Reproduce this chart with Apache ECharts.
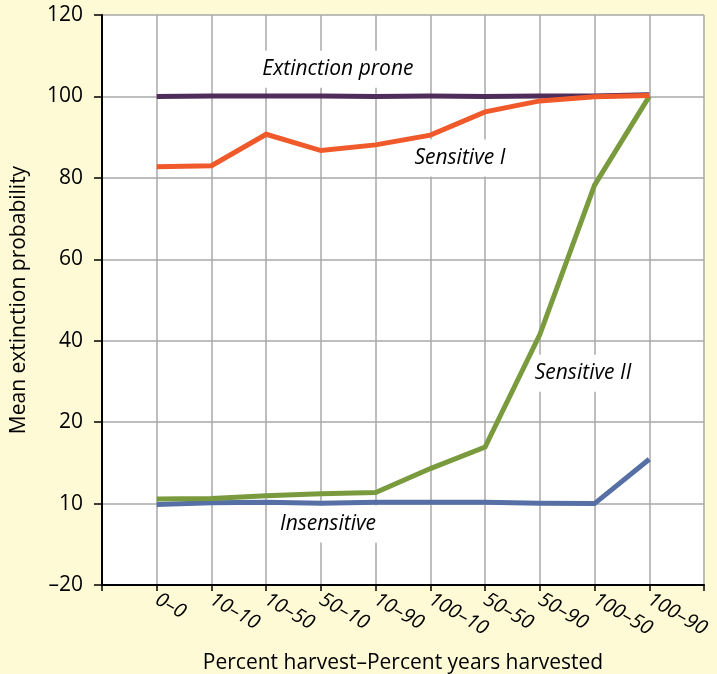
<!DOCTYPE html>
<html>
<head>
<meta charset="utf-8">
<script src="https://cdn.jsdelivr.net/npm/echarts@6/dist/echarts.min.js"></script>
<style>
html,body{margin:0;padding:0;background:#fffad6;}
#chart{width:717px;height:674px;}
</style>
</head>
<body>
<div id="chart"></div>
<script>
// Categories (Percent harvest–Percent years harvested)
const categories = ["0–0","10–10","10–50","50–10","10–90","100–10","50–50","50–90","100–50","100–90"];
// Y tick labels as printed on the original axis (axis positions -20..120 step 20)
const yTickValues = [-20, 0, 20, 40, 60, 80, 100, 120];
const yTickLabels = ["–20", "10", "20", "40", "60", "80", "100", "120"];
// Series values (in axis position units)
const extinctionProne = [100, 100.1, 100.1, 100.1, 100, 100.1, 100, 100.1, 100.1, 100.4];
const sensitiveI      = [82.7, 83.0, 90.7, 86.7, 88.1, 90.5, 96.2, 98.9, 99.9, 100.2];
const sensitiveII     = [1.1, 1.25, 1.9, 2.4, 2.7, 8.6, 13.9, 41.5, 78.2, 100];
const insensitive     = [-0.2, 0.2, 0.35, 0.1, 0.3, 0.3, 0.3, 0.1, 0.0, 10.9];
// Annotation labels and anchors (data units)
const annotations = [
  {text: "Extinction prone", x: 3.31, y: 106.7},
  {text: "Sensitive I", x: 5.54, y: 84.9},
  {text: "Sensitive II", x: 7.79, y: 32},
  {text: "Insensitive", x: 3.13, y: -5}
];

const FONT = "'Open Sans', 'Noto Sans', sans-serif";
const chart = echarts.init(document.getElementById('chart'));
function toXY(arr){ return arr.map((v,i)=>[i,v]); }
const lineStyle = (c)=>({type:'line', symbol:'none', lineStyle:{width:5, color:c, join:'miter'}, itemStyle:{color:c}, z:5});

chart.setOption({
  backgroundColor: '#fffad6',
  animation: false,
  grid: {left: 102, right: 13, top: 15, bottom: 89, show: true, backgroundColor: '#ffffff', borderWidth: 0,
         containLabel: false, outerBoundsMode: 'none'},
  xAxis: {
    type: 'value', min: -1, max: 10, interval: 1,
    axisLine: {show: true, onZero: false, lineStyle: {color: '#000', width: 2}},
    axisTick: {show: true, length: 6, lineStyle: {color: '#000', width: 1.5}},
    splitLine: {show: true, lineStyle: {color: '#a8a8a8', width: 1.5}},
    axisLabel: {
      rotate: -30, margin: 13, color: '#000', fontFamily: FONT, fontSize: 20, fontStyle: 'italic',
      showMinLabel: true, showMaxLabel: true,
      formatter: v => (v >= 0 && v < categories.length) ? categories[v] : ''
    },
    name: 'Percent harvest–Percent years harvested', nameLocation: 'middle', nameGap: 68,
    nameTextStyle: {color: '#000', fontFamily: FONT, fontSize: 21}
  },
  yAxis: {
    type: 'value', min: -20, max: 120, interval: 20,
    axisLine: {show: true, onZero: false, lineStyle: {color: '#000', width: 2}},
    axisTick: {show: true, length: 8, lineStyle: {color: '#000', width: 1.5}},
    splitLine: {show: true, lineStyle: {color: '#a8a8a8', width: 1.5}},
    axisLabel: {
      color: '#000', fontFamily: FONT, fontSize: 21, margin: 19,
      formatter: v => { const i = yTickValues.indexOf(v); return i >= 0 ? yTickLabels[i] : ''; }
    },
    name: 'Mean extinction probability', nameLocation: 'middle', nameGap: 72,
    nameTextStyle: {color: '#000', fontFamily: FONT, fontSize: 21}
  },
  series: [
    Object.assign(lineStyle('#4e2d5a'), {name: 'Extinction prone', data: toXY(extinctionProne), z: 4}),
    Object.assign(lineStyle('#f0592a'), {name: 'Sensitive I', data: toXY(sensitiveI), z: 6}),
    Object.assign(lineStyle('#7a9a3e'), {name: 'Sensitive II', data: toXY(sensitiveII), z: 5}),
    Object.assign(lineStyle('#5670a6'), {name: 'Insensitive', data: toXY(insensitive), z: 4})
  ]
});

chart.setOption({
  graphic: annotations.map(a => {
    const p = chart.convertToPixel({gridIndex: 0}, [a.x, a.y]);
    return {
      type: 'text', x: p[0], y: p[1], z: 3,
      style: {
        text: a.text, fill: '#000', font: 'italic 21px ' + FONT,
        align: 'center', verticalAlign: 'middle',
        backgroundColor: '#ffffff', padding: [8, 4]
      }
    };
  })
});
</script>
</body>
</html>
